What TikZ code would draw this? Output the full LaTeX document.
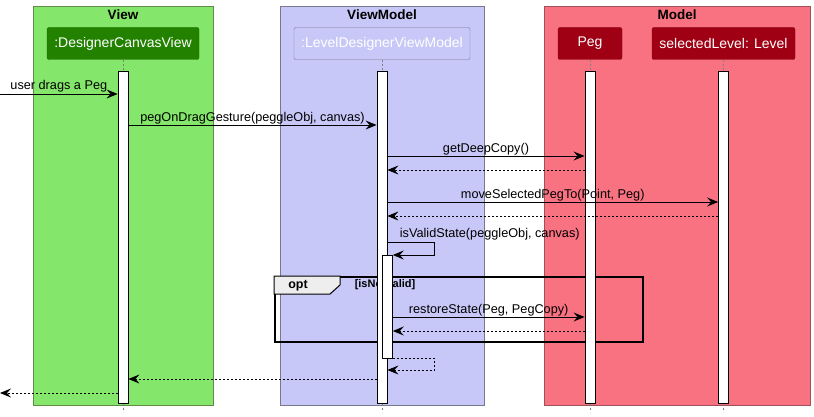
\documentclass[tikz,border=0pt]{standalone}
\usepackage{fontspec}
\setmainfont{Liberation Sans}
\usetikzlibrary{arrows.meta,positioning}
\definecolor{viewbg}{RGB}{132,230,106}
\definecolor{viewline}{RGB}{95,140,75}
\definecolor{vmbg}{RGB}{200,200,248}
\definecolor{vmline}{RGB}{120,120,140}
\definecolor{modelbg}{RGB}{248,114,130}
\definecolor{modelline}{RGB}{160,80,90}
\definecolor{partgreen}{RGB}{34,130,0}
\definecolor{partred}{RGB}{160,0,20}
\definecolor{optgray}{RGB}{238,238,238}
\tikzset{grp/.style={draw,line width=0.8pt,anchor=north west,inner sep=0pt}}
\tikzset{grptitle/.style={anchor=base,font=\fontsize{13.5}{16}\selectfont\bfseries}}
\tikzset{part/.style={rounded corners=2pt,text=white,minimum height=32,inner sep=0pt,
                      font=\fontsize{14}{16}\selectfont}}
\tikzset{bar/.style={draw,fill=white,line width=0.8pt,minimum width=10,inner sep=0pt}}
\tikzset{life/.style={draw=gray,dash pattern=on 2pt off 2pt,line width=0.6pt}}
\tikzset{msg/.style={line width=0.9pt,-{Stealth[length=11pt,width=9pt,inset=4pt]}}}
\tikzset{ret/.style={msg,dash pattern=on 2pt off 2pt}}
\tikzset{lbl/.style={anchor=base,yshift=3.5pt,inner sep=0pt,font=\fontsize{12.7}{15}\selectfont}}
\begin{document}
\begin{tikzpicture}[x=1pt,y=-1pt]
    \useasboundingbox (0,0) rectangle (814,417);

    % boxes
    \node[grp,fill=viewbg,draw=viewline,minimum width=180,minimum height=399] (view) at (33,6) {};
    \node[grp,fill=vmbg,draw=vmline,minimum width=204,minimum height=399] (vm) at (280,6) {};
    \node[grp,fill=modelbg,draw=modelline,minimum width=266,minimum height=399] (model) at (544,6) {};
    \node[grptitle] (viewT) at (123,20) {View};
    \node[grptitle] (vmT) at (382,20) {ViewModel};
    \node[grptitle] (modelT) at (677,20) {Model};

    % participants
    \node[part,fill=partgreen,draw=partgreen!80!black,minimum width=152] (dcv) at (123,43.5) {:DesignerCanvasView};
    \node[part,fill=vmbg,draw=vmline,minimum width=176] (ldvm) at (382,43.5) {:LevelDesignerViewModel};
    \node[part,fill=partred,draw=partred!80!black,minimum width=64] (peg) at (590,43.5) {Peg};
    \node[part,fill=partred,draw=partred!80!black,minimum width=143] (lvl) at (723.5,43.5) {selectedLevel: Level};

    % opt frame
    \node[draw,line width=1.5pt,anchor=north west,minimum width=368,minimum height=65,inner sep=0pt] (opt) at (274,276) {};
    \draw[line width=1pt,fill=optgray] (opt.north west) -- ++(66,0) -- ++(0,9) -- ++(-10,9) -- ++(-56,0) -- cycle;
    \node[font=\fontsize{12.5}{15}\selectfont\bfseries] (optT) at (298,285.5) {opt};
    \node[font=\fontsize{11}{13}\selectfont\bfseries] (optG) at (385,285) {[isNotValid]};

    % lifelines
    \foreach \p in {dcv,ldvm,peg,lvl}{
        \node[bar,minimum height=332,below=11pt of \p] (act\p) {};
        \draw[life] (\p) -- (act\p);
        \draw[life] (act\p.south) -- ++(0,8);
    }
    \node[bar,minimum height=103,anchor=north west] (nest) at (actldvm.center |- 0,255) {};

    % messages
    \coordinate (user) at (0,94);
    \draw[msg] (user) -- node[lbl,yshift=0.5pt]{user drags a Peg} (actdcv.west |- user);
    \draw[msg] (actdcv.east |- 0,125) -- node[lbl]{pegOnDragGesture(peggleObj, canvas)} (actldvm.west |- 0,125);
    \draw[msg] (actldvm.east |- 0,156) -- node[lbl]{getDeepCopy()} (actpeg.west |- 0,156);
    \draw[ret] (actpeg.west |- 0,170) -- (actldvm.east |- 0,170);
    \draw[msg] (actldvm.east |- 0,202) -- node[lbl]{moveSelectedPegTo(Point, Peg)} (actlvl.west |- 0,202);
    \draw[ret] (actlvl.west |- 0,216) -- (actldvm.east |- 0,216);
    \draw[msg] (actldvm.east |- 0,242) node[lbl,anchor=base west,xshift=12pt,yshift=1pt]{isValidState(peggleObj, canvas)}
        -- ++(47,0) |- (nest.north east);
    \draw[msg] (nest.east |- 0,317) -- node[lbl]{restoreState(Peg, PegCopy)} (actpeg.west |- 0,317);
    \draw[ret] (actpeg.west |- 0,331) -- (nest.east |- 0,331);
    \draw[ret] (nest.south east) -- ++(42,0) |- (actldvm.east |- 0,370);
    \draw[ret] (actldvm.west |- 0,379) -- (actdcv.east |- 0,379);
    \coordinate (userR) at (0,393);
    \draw[ret] (actdcv.west |- userR) -- (userR);

\end{tikzpicture}
\end{document}
